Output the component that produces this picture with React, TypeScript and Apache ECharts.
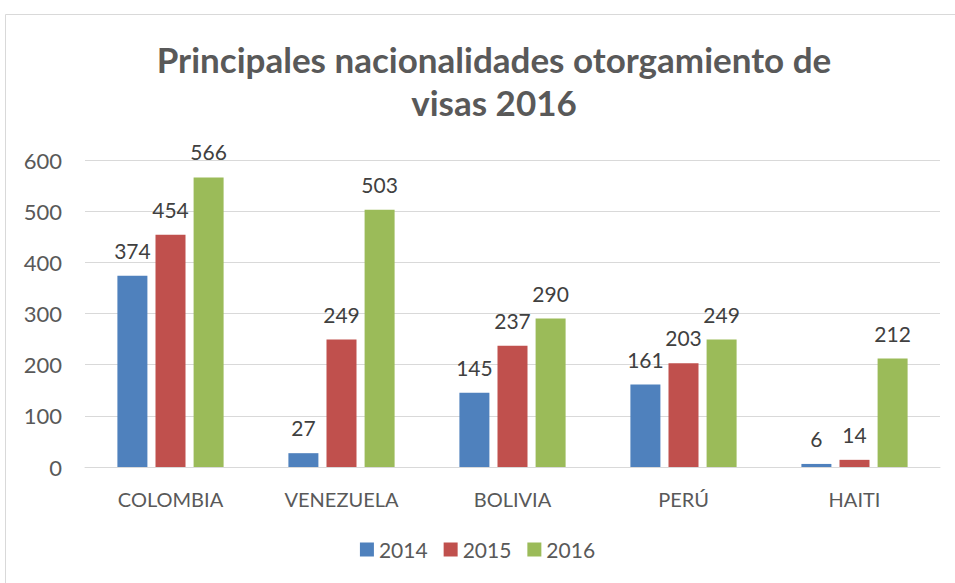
import React, { useEffect, useRef } from "react";
import * as echarts from "echarts";

const categories = ["COLOMBIA", "VENEZUELA", "BOLIVIA", "PERÚ", "HAITI"];
const seriesNames = ["2014", "2015", "2016"];
const values2014 = [374, 27, 145, 161, 6];
const values2015 = [454, 249, 237, 203, 14];
const values2016 = [566, 503, 290, 249, 212];
const colors = ["#4F81BD", "#C0504D", "#9BBB59"];

export default function App() {
  const ref = useRef<HTMLDivElement>(null);
  useEffect(() => {
    if (!ref.current) return;
    const chart = echarts.init(ref.current, null, { renderer: "svg" });
    const font = "Lato, 'Open Sans', sans-serif";
    const data = [values2014, values2015, values2016];
    chart.setOption({
      animation: false,
      backgroundColor: "#ffffff",
      graphic: [
        {
          type: "rect",
          shape: { x: 5.5, y: 14.5, width: 1000, height: 700 },
          style: { fill: "none", stroke: "#D9D9D9", lineWidth: 1 },
          silent: true,
        },
      ],
      title: {
        text: "Principales nacionalidades otorgamiento de\nvisas 2016",
        left: 489,
        top: 32,
        textAlign: "center",
        textStyle: {
          fontFamily: font,
          fontWeight: "bold",
          fontSize: 35,
          color: "#595959",
          lineHeight: 43,
        },
      },
      legend: {
        data: seriesNames,
        bottom: 18,
        left: "center",
        itemWidth: 14,
        itemHeight: 14,
        itemGap: 16,
        icon: "rect",
        textStyle: { fontFamily: font, fontSize: 21, color: "#595959" },
      },
      grid: { left: 85, right: 15, top: 160, bottom: 116 },
      xAxis: {
        type: "category",
        data: categories,
        axisLine: { lineStyle: { color: "#D9D9D9", width: 1 } },
        axisTick: { show: false },
        axisLabel: {
          fontFamily: font,
          fontSize: 20,
          color: "#595959",
          margin: 22,
        },
      },
      yAxis: {
        type: "value",
        min: 0,
        max: 600,
        interval: 100,
        axisLine: { show: false },
        axisTick: { show: false },
        splitLine: { lineStyle: { color: "#D9D9D9", width: 1 } },
        axisLabel: {
          fontFamily: font,
          fontSize: 22,
          color: "#595959",
          margin: 23,
        },
      },
      series: seriesNames.map((name, i) => ({
        name,
        type: "bar",
        data: data[i],
        barWidth: 30,
        barGap: "27%",
        itemStyle: { color: colors[i] },
        label: {
          show: true,
          position: "top",
          distance: 15,
          fontFamily: font,
          fontSize: 21,
          color: "#404040",
        },
      })),
    });
    return () => chart.dispose();
  }, []);
  return (
    <div
      ref={ref}
      style={{ position: "fixed", left: 0, top: 0, width: 955, height: 583 }}
    />
  );
}
